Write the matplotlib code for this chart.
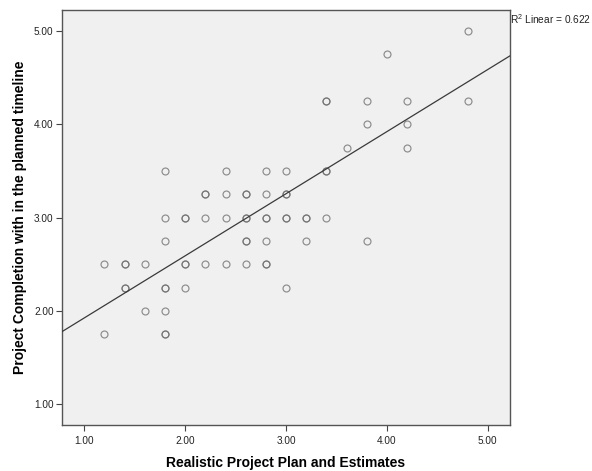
import numpy as np
import matplotlib
matplotlib.use("Agg")
import matplotlib.pyplot as plt

# Data (duplicates listed twice -> darker rings)
plan_x = [4.8,
          4.0,
          3.4, 3.4, 3.8, 4.2, 4.8,
          3.8, 4.2,
          3.6, 4.2,
          1.8, 2.4, 2.8, 3.0, 3.4, 3.4,
          2.2, 2.2, 2.4, 2.6, 2.6, 2.8, 3.0, 3.0,
          1.8, 2.0, 2.0, 2.2, 2.4, 2.6, 2.6, 2.8, 2.8, 3.0, 3.0, 3.2, 3.2, 3.4,
          1.8, 2.6, 2.6, 2.8, 3.2, 3.8,
          1.2, 1.4, 1.4, 1.6, 2.0, 2.0, 2.2, 2.4, 2.6, 2.8, 2.8,
          1.4, 1.4, 1.8, 1.8, 2.0, 3.0,
          1.6, 1.8,
          1.2, 1.8, 1.8]
completion_y = [5.00,
                4.75,
                4.25, 4.25, 4.25, 4.25, 4.25,
                4.00, 4.00,
                3.75, 3.75,
                3.50, 3.50, 3.50, 3.50, 3.50, 3.50,
                3.25, 3.25, 3.25, 3.25, 3.25, 3.25, 3.25, 3.25,
                3.00, 3.00, 3.00, 3.00, 3.00, 3.00, 3.00, 3.00, 3.00, 3.00, 3.00, 3.00, 3.00, 3.00,
                2.75, 2.75, 2.75, 2.75, 2.75, 2.75,
                2.50, 2.50, 2.50, 2.50, 2.50, 2.50, 2.50, 2.50, 2.50, 2.50, 2.50,
                2.25, 2.25, 2.25, 2.25, 2.25, 2.25,
                2.00, 2.00,
                1.75, 1.75, 1.75]

# Fit line
fit_intercept = 1.260
fit_slope = 0.6655

x_ticks = [1.0, 2.0, 3.0, 4.0, 5.0]
y_ticks = [1.0, 2.0, 3.0, 4.0, 5.0]
r2_text = "R$^2$ Linear = 0.622"
x_label = "Realistic Project Plan and Estimates"
y_label = "Project Completion with in the planned timeline"

plt.rcParams['font.family'] = ['Liberation Sans', 'DejaVu Sans']
plt.rcParams['mathtext.fontset'] = 'custom'
plt.rcParams['mathtext.rm'] = 'Liberation Sans'

fig = plt.figure(figsize=(5.92, 4.71), dpi=100)
ax = fig.add_axes([62/592, 1-425/471, (510-62)/592, (425-10)/471])
ax.set_facecolor('#F0F0F0')

xmin, xmax = 0.779, 5.22
ymin, ymax = 0.778, 5.225
ax.set_xlim(xmin, xmax)
ax.set_ylim(ymin, ymax)

ax.plot(plan_x, completion_y, linestyle='none', marker='o', markersize=5.0,
        markerfacecolor='none', markeredgecolor='#6a6a6a', markeredgewidth=0.85,
        alpha=0.75, zorder=3)

lx = np.array([xmin, xmax])
ax.plot(lx, fit_intercept + fit_slope * lx, color='#3a3a3a', linewidth=0.9, zorder=4)

ax.set_xticks(x_ticks)
ax.set_yticks(y_ticks)
ax.set_xticklabels([f"{v:.2f}" for v in x_ticks])
ax.set_yticklabels([f"{v:.2f}" for v in y_ticks])
ax.tick_params(axis='both', direction='out', length=4.5, width=0.8,
               color='#444444', labelsize=7.2, labelcolor='#222222', pad=1.5)
ax.tick_params(axis='x', pad=3.5)
for s in ax.spines.values():
    s.set_color('#555555')
    s.set_linewidth(1.0)

ax.set_xlabel(x_label, fontsize=10, fontweight='bold', labelpad=7)
ax.set_ylabel(y_label, fontsize=10, fontweight='bold', labelpad=5)

fig.text(510/592, 1-19/471, r2_text, fontsize=7.3, ha='left', va='center', color='#222222')

fig.savefig("out.png", dpi=100)
